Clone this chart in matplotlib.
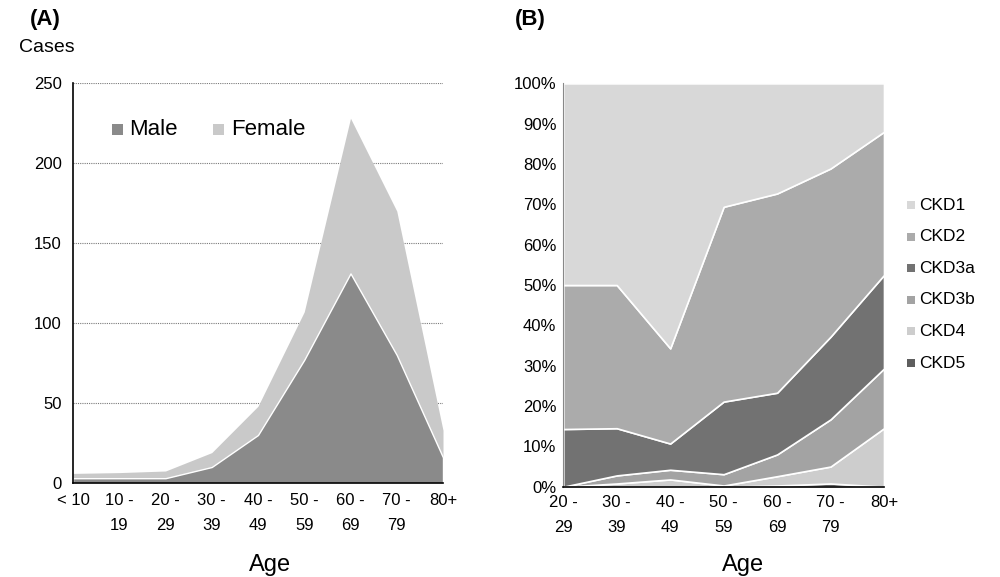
#!/usr/bin/env python3
"""Age distribution of cases (A) and CKD stage share by age band (B)."""

import matplotlib

matplotlib.use("Agg")
import matplotlib.pyplot as plt
import numpy as np
from matplotlib.patches import Rectangle

plt.rcParams["font.family"] = ["Liberation Sans", "DejaVu Sans"]

# Panel A: case counts by age band
AGE_A = ["< 10", "10 -\n19", "20 -\n29", "30 -\n39", "40 -\n49",
         "50 -\n59", "60 -\n69", "70 -\n79", "80+"]
MALE = [3, 3, 3, 10, 30, 77, 131, 80, 16]
FEMALE = [3, 3.5, 4.5, 9, 18, 30, 97, 90, 17]

# Panel B: CKD stage share (%) by age band
AGE_B = ["20 -\n29", "30 -\n39", "40 -\n49", "50 -\n59", "60 -\n69", "70 -\n79", "80+"]
CKD5 = [0, 0, 0, 0, 0.3, 0.8, 0]
CKD4 = [0, 0.8, 1.8, 0.3, 2.3, 4.2, 14.5]
CKD3B = [0, 2.0, 2.4, 2.8, 5.4, 11.7, 14.8]
CKD3A = [14.3, 11.7, 6.5, 18.0, 15.3, 20.5, 23.2]
CKD2 = [35.7, 35.5, 23.6, 48.3, 49.4, 41.7, 35.5]
CKD1 = [50.0, 50.0, 65.7, 30.6, 27.3, 21.1, 12.0]

MALE_C = "#8a8a8a"
FEMALE_C = "#c9c9c9"
STAGE_C = {
    "CKD1": "#d8d8d8",
    "CKD2": "#ababab",
    "CKD3a": "#727272",
    "CKD3b": "#a3a3a3",
    "CKD4": "#cdcdcd",
    "CKD5": "#5e5e5e",
}

TICK_FS = 12

fig = plt.figure(figsize=(10, 5.77), dpi=100)

# ---- panel A
ax = fig.add_axes([0.073, 0.1629, 0.370, 0.6932])
x = np.arange(len(AGE_A))
male = np.array(MALE, dtype=float)
total = male + np.array(FEMALE, dtype=float)
ax.fill_between(x, male, total, color=FEMALE_C, linewidth=0, zorder=2)
ax.fill_between(x, 0, male, color=MALE_C, edgecolor="white", linewidth=1.0, zorder=3)
ax.set_xlim(0, len(AGE_A) - 1)
ax.set_ylim(0, 250)
ax.set_yticks([0, 50, 100, 150, 200, 250])
ax.set_xticks(x)
ax.set_xticklabels(AGE_A, linespacing=1.85)
ax.tick_params(length=0, labelsize=TICK_FS)
ax.tick_params(axis="x", pad=7)
ax.tick_params(axis="y", pad=8)
ax.yaxis.grid(True, color="#7a7a7a", linestyle=(0, (1, 1)), linewidth=0.8, zorder=1)
ax.set_axisbelow(True)
for side in ("top", "right"):
    ax.spines[side].set_visible(False)
for side in ("left", "bottom"):
    ax.spines[side].set_linewidth(1.2)
    ax.spines[side].set_zorder(5)

fig.text(0.045, 0.966, "(A)", fontsize=16, fontweight="bold", ha="center", va="center")
fig.text(0.047, 0.918, "Cases", fontsize=14, ha="center", va="center")
fig.text(0.270, 0.020, "Age", fontsize=17, ha="center", va="center")

# legend A
for sx, tx, lab, col in [(0.112, 0.129, "Male", MALE_C), (0.213, 0.231, "Female", FEMALE_C)]:
    fig.patches.append(Rectangle((sx, 0.766), 0.011, 0.019, transform=fig.transFigure,
                                 facecolor=col, edgecolor="none"))
    fig.text(tx, 0.775, lab, fontsize=16, ha="left", va="center")

# ---- panel B
bx = fig.add_axes([0.5633, 0.1565, 0.3207, 0.6990])
xb = np.arange(len(AGE_B))
layers = [CKD5, CKD4, CKD3B, CKD3A, CKD2, CKD1]
names = ["CKD5", "CKD4", "CKD3b", "CKD3a", "CKD2", "CKD1"]
bx.stackplot(xb, *layers, colors=[STAGE_C[n] for n in names],
             edgecolor="white", linewidth=1.2)
bx.set_xlim(0, len(AGE_B) - 1)
bx.set_ylim(0, 100)
bx.set_yticks(np.arange(0, 101, 10))
bx.set_yticklabels([f"{v}%" for v in range(0, 101, 10)])
bx.set_xticks(xb)
bx.set_xticklabels(AGE_B, linespacing=1.85)
bx.tick_params(length=0, labelsize=TICK_FS)
bx.tick_params(axis="x", pad=6)
bx.tick_params(axis="y", pad=5)
for side in ("top", "right"):
    bx.spines[side].set_visible(False)
bx.spines["left"].set_color("#888888")
bx.spines["left"].set_linewidth(0.8)
bx.spines["bottom"].set_linewidth(1.2)

fig.text(0.530, 0.966, "(B)", fontsize=16, fontweight="bold", ha="center", va="center")
fig.text(0.743, 0.020, "Age", fontsize=17, ha="center", va="center")

# legend B
leg_names = ["CKD1", "CKD2", "CKD3a", "CKD3b", "CKD4", "CKD5"]
for i, n in enumerate(leg_names):
    yc = 1 - (205 + i * 31.6) / 577
    fig.patches.append(Rectangle((0.9065, yc - 0.007), 0.008, 0.014,
                                 transform=fig.transFigure,
                                 facecolor=STAGE_C[n], edgecolor="none"))
    fig.text(0.9195, yc, n, fontsize=12.5, ha="left", va="center")

fig.savefig("out.png", dpi=100)
